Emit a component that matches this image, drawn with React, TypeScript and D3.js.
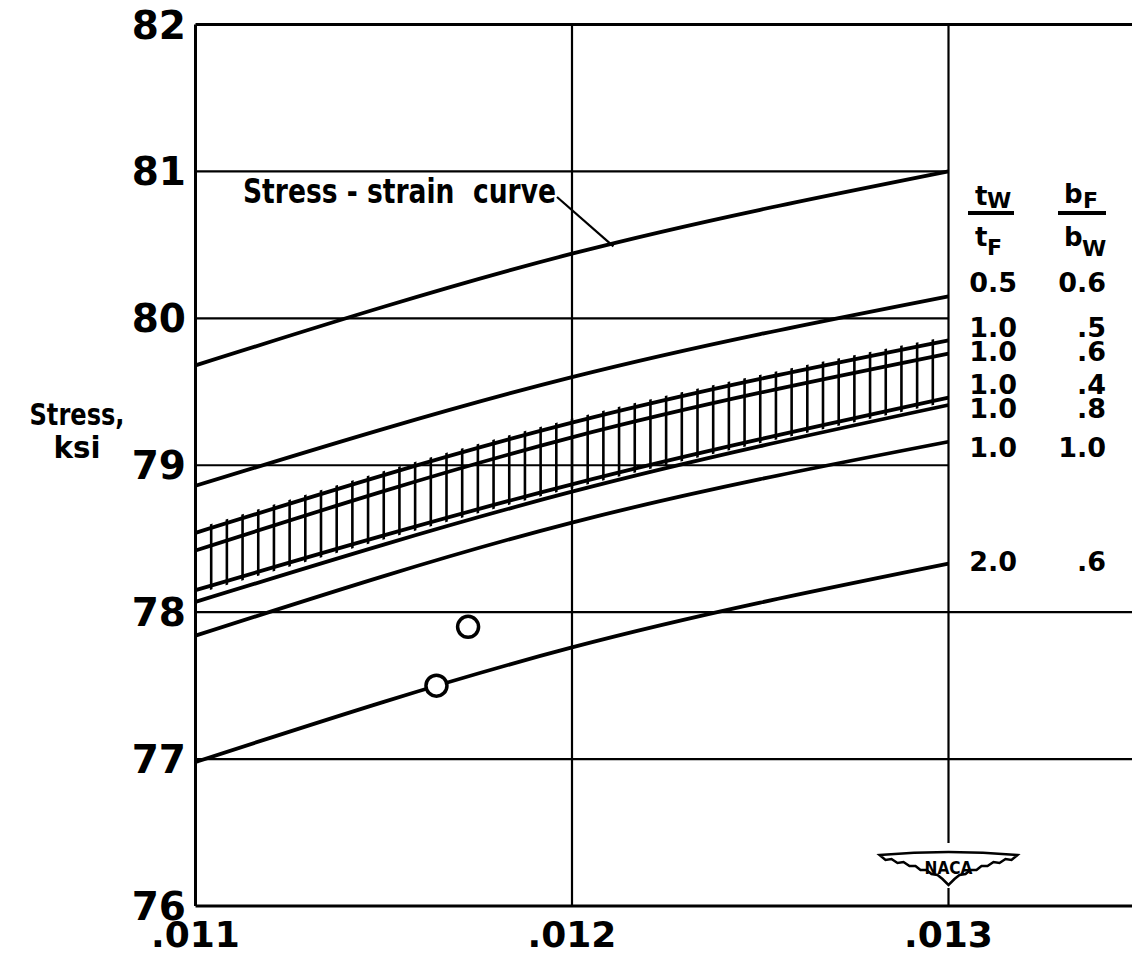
import React from "react";
import * as d3 from "d3";

// ---- data ----
const strain = [0.011, 0.012, 0.013];
const stressStrain = [79.68, 80.44, 81.0]; // tw/tF 0.5, bF/bW 0.6
const curveTw1Bf05 = [78.86, 79.6, 80.15];
const bandTop = [78.54, 79.29, 79.85];
const bandSecond = [78.42, 79.19, 79.76];
const bandThird = [78.15, 78.87, 79.46];
const bandBottom = [78.07, 78.82, 79.41];
const curveTw1Bf10 = [77.84, 78.61, 79.16];
const curveTw2Bf06 = [76.98, 77.76, 78.33];

const testStrain = [0.01164, 0.011724];
const testStress = [77.5, 77.9];

const yTicks = [76, 77, 78, 79, 80, 81, 82];
const xTicks = [0.011, 0.012, 0.013];
const xTickLabels = [".011", ".012", ".013"];

const legendTw = ["0.5", "1.0", "1.0", "1.0", "1.0", "1.0", "2.0"];
const legendBf = ["0.6", ".5", ".6", ".4", ".8", "1.0", ".6"];

export default function App() {
  const W = 1132;
  const H = 956;
  const x = d3.scaleLinear().domain([0.011, 0.013]).range([195.5, 948.5]);
  const y = d3.scaleLinear().domain([76, 82]).range([906, 24.5]);

  const line = d3
    .line<number>()
    .x((_, i) => x(strain[i]))
    .y((d) => y(d))
    .curve(d3.curveMonotoneX);

  const curves = [
    stressStrain,
    curveTw1Bf05,
    bandTop,
    bandSecond,
    bandThird,
    bandBottom,
    curveTw1Bf10,
    curveTw2Bf06,
  ];

  const bandArea = d3
    .area<number>()
    .x((_, i) => x(strain[i]))
    .y1((d) => y(d) - 4)
    .y0((_, i) => y(bandThird[i]) + 4)
    .curve(d3.curveMonotoneX);

  const hatchX = d3.range(1, 48).map((k) => 0.011 + (k * 0.001) / 24);

  const font = "'DejaVu Sans', sans-serif";
  const legendRowsY = [292, 337, 361, 394, 418, 457, 571];

  const left = x(0.011);
  const top = y(82);
  const bottom = y(76);
  const x13 = x(0.013);

  // leader target on stress-strain curve
  const leaderX = x(0.01211);
  const leaderY = y(80.49);

  return (
    <svg
      width={W}
      height={H}
      style={{ position: "absolute", left: 0, top: 0, background: "#fff" }}
    >
      <defs>
        <clipPath id="bandClip">
          <path d={bandArea(bandTop) || ""} />
        </clipPath>
      </defs>
      <rect x={0} y={0} width={W} height={H} fill="#fff" />

      {/* horizontal grid lines */}
      {[77, 78].map((v) => (
        <line key={v} x1={left} x2={W} y1={y(v)} y2={y(v)} stroke="#000" strokeWidth={2.2} />
      ))}
      {[79, 80, 81].map((v) => (
        <line key={v} x1={left} x2={x13} y1={y(v)} y2={y(v)} stroke="#000" strokeWidth={2.2} />
      ))}
      {/* vertical grid lines */}
      {[0.012, 0.013].map((v) => (
        <line key={v} x1={x(v)} x2={x(v)} y1={top} y2={bottom} stroke="#000" strokeWidth={2.2} />
      ))}

      {/* frame */}
      <line x1={left} x2={W} y1={top} y2={top} stroke="#000" strokeWidth={2.8} />
      <line x1={left} x2={W} y1={bottom} y2={bottom} stroke="#000" strokeWidth={2.8} />
      <line x1={left} x2={left} y1={top} y2={bottom} stroke="#000" strokeWidth={3} />

      {/* hatch ticks */}
      <g clipPath="url(#bandClip)">
        {hatchX.map((v, i) => (
          <line key={i} x1={x(v)} x2={x(v)} y1={top} y2={bottom} stroke="#000" strokeWidth={2.6} />
        ))}
      </g>

      {/* curves */}
      {curves.map((c, i) => (
        <path key={i} d={line(c) || ""} fill="none" stroke="#000" strokeWidth={3.8} />
      ))}

      {/* test points */}
      {testStrain.map((s, i) => (
        <circle
          key={i}
          cx={x(s)}
          cy={y(testStress[i])}
          r={10.5}
          fill="#fff"
          stroke="#000"
          strokeWidth={3.5}
        />
      ))}

      {/* annotation */}
      <text
        x={243}
        y={203}
        fontFamily={font}
        fontWeight="bold"
        fontSize={33}
        textLength={313}
        lengthAdjust="spacingAndGlyphs"
        style={{ whiteSpace: "pre" }}
      >
        {"Stress - strain  curve"}
      </text>
      <line x1={557} y1={197} x2={leaderX} y2={leaderY} stroke="#000" strokeWidth={2.2} />

      {/* y tick labels */}
      {yTicks.map((v) => (
        <text
          key={v}
          x={186}
          y={y(v) + 14}
          textAnchor="end"
          fontFamily={font}
          fontWeight="bold"
          fontSize={39}
        >
          {v}
        </text>
      ))}
      {/* x tick labels */}
      {xTicks.map((v, i) => (
        <text
          key={v}
          x={x(v)}
          y={947}
          textAnchor="middle"
          fontFamily={font}
          fontWeight="bold"
          fontSize={36}
        >
          {xTickLabels[i]}
        </text>
      ))}

      {/* axis title */}
      <text x={77} y={425} textAnchor="middle" fontFamily={font} fontWeight="bold" fontSize={30} textLength={95} lengthAdjust="spacingAndGlyphs">
        Stress,
      </text>
      <text x={77} y={458} textAnchor="middle" fontFamily={font} fontWeight="bold" fontSize={30} textLength={47} lengthAdjust="spacingAndGlyphs">
        ksi
      </text>

      {/* legend headers */}
      <g fontFamily={font} fontWeight="bold">
        <text x={975} y={205} fontSize={26}>t</text>
        <text x={987} y={208} fontSize={22}>W</text>
        <line x1={968} x2={1014} y1={213} y2={213} stroke="#000" strokeWidth={4} />
        <text x={975} y={246} fontSize={26}>t</text>
        <text x={987} y={255} fontSize={22}>F</text>

        <text x={1064} y={203} fontSize={26}>b</text>
        <text x={1083} y={208} fontSize={22}>F</text>
        <line x1={1058} x2={1106} y1={213} y2={213} stroke="#000" strokeWidth={4} />
        <text x={1064} y={246} fontSize={26}>b</text>
        <text x={1082} y={256} fontSize={22}>W</text>
      </g>

      {/* legend rows */}
      {legendTw.map((t, i) => (
        <g key={i} fontFamily={font} fontWeight="bold" fontSize={27}>
          <text x={1017} y={legendRowsY[i]} textAnchor="end">{t}</text>
          <text x={1106} y={legendRowsY[i]} textAnchor="end">{legendBf[i]}</text>
        </g>
      ))}

      {/* NACA logo */}
      <g transform={`translate(${x13},867)`}>
        <rect x={-8} y={-24} width={16} height={45} fill="#fff" />
        <path
          d="M-69,-12 Q0,-18 69,-12 L63,-7 L57,-8 L51,-4 L45,-5 L39,-1 L33,-1 L28,3 L22,3 L17,7 L11,8 L6,12 L0,18 L-6,12 L-11,8 L-17,7 L-22,3 L-28,3 L-33,-1 L-39,-1 L-45,-5 L-51,-4 L-57,-8 L-63,-7 Z"
          fill="#fff"
          stroke="#000"
          strokeWidth={2.5}
        />
        <text x={0} y={7} textAnchor="middle" fontFamily={font} fontWeight="bold" fontSize={17} textLength={48} lengthAdjust="spacingAndGlyphs">
          NACA
        </text>
      </g>
    </svg>
  );
}
